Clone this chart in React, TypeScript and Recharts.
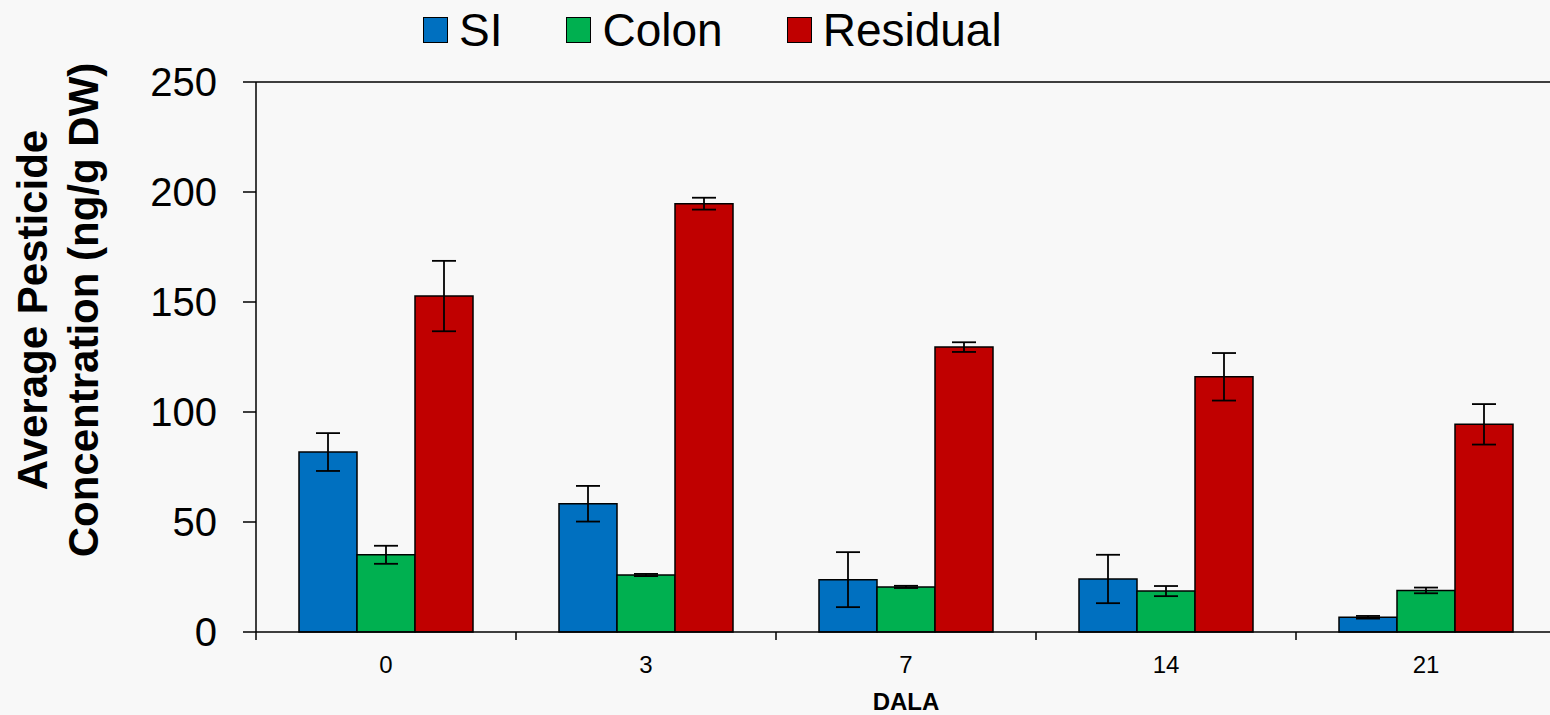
import React from 'react';
import { BarChart, Bar, XAxis, YAxis, ErrorBar, Legend, Label, ReferenceLine } from 'recharts';

const FONT = '"Liberation Sans", Arial, sans-serif';

const categories = ['0', '3', '7', '14', '21'];
const siValues = [81.8, 58.3, 23.8, 24.1, 6.7];
const siErrors = [8.6, 8.1, 12.5, 11.0, 0.6];
const colonValues = [35.1, 25.9, 20.5, 18.6, 18.9];
const colonErrors = [4.1, 0.5, 0.5, 2.3, 1.3];
const residualValues = [152.7, 194.7, 129.5, 116.0, 94.4];
const residualErrors = [16.0, 2.7, 2.2, 10.8, 9.2];
const yTicks = [0, 50, 100, 150, 200, 250];

const series = [
    { key: 'si', err: 'siErr', name: 'SI', color: '#0070C0' },
    { key: 'colon', err: 'colonErr', name: 'Colon', color: '#00B050' },
    { key: 'residual', err: 'residualErr', name: 'Residual', color: '#C00000' },
];

const data = categories.map((dala, i) => ({
    dala,
    si: siValues[i],
    siErr: siErrors[i],
    colon: colonValues[i],
    colonErr: colonErrors[i],
    residual: residualValues[i],
    residualErr: residualErrors[i],
}));

// category label in the middle, small tick mark on the left boundary of each band
const DalaTick = (props: any) => {
    const { x, y, payload } = props;
    const half = payload && payload.offset != null ? payload.offset : 130;
    return (
        <g>
            <line x1={x - half} x2={x - half} y1={y} y2={y + 8} stroke="#000" strokeWidth={1.5} />
            <text x={x} y={y + 41} textAnchor="middle" fontSize={24} fontFamily={FONT} fill="#000">
                {payload.value}
            </text>
        </g>
    );
};

const YTitle = (props: any) => {
    const vb = props.viewBox || { y: 82, height: 550 };
    const cy = vb.y + vb.height / 2 - 47;
    const style = { fontSize: 42, fontWeight: 700, fontFamily: FONT, fill: '#000' };
    return (
        <g>
            <text transform={`translate(47, ${cy}) rotate(-90)`} textAnchor="middle" style={style}>
                Average Pesticide
            </text>
            <text transform={`translate(98, ${cy}) rotate(-90)`} textAnchor="middle" style={style}>
                Concentration (ng/g DW)
            </text>
        </g>
    );
};

const LegendContent = () => (
    <div style={{ display: 'flex', alignItems: 'center', fontFamily: FONT, fontSize: 46, lineHeight: '46px', color: '#000' }}>
        {series.map((s, i) => (
            <div key={s.key} style={{ display: 'flex', alignItems: 'center', marginLeft: i === 0 ? 0 : 64 }}>
                <span
                    style={{
                        display: 'inline-block',
                        width: 23,
                        height: 24,
                        background: s.color,
                        border: '1.5px solid #000',
                        marginRight: 11,
                    }}
                />
                <span>{s.name}</span>
            </div>
        ))}
    </div>
);

export default function App() {
    return (
        <div style={{ position: 'fixed', inset: 0, background: '#f8f8f8', overflow: 'hidden' }}>
            <BarChart
                width={1556}
                height={715}
                data={data}
                margin={{ top: 82, right: 0, bottom: 0, left: 0 }}
                barCategoryGap={43}
                barGap={0}
            >
                <XAxis
                    dataKey="dala"
                    height={83}
                    interval={0}
                    tickSize={0}
                    tickMargin={0}
                    tickLine={false}
                    tick={<DalaTick />}
                    axisLine={{ stroke: '#000', strokeWidth: 1.5 }}
                >
                    <Label
                        value="DALA"
                        position="insideBottom"
                        offset={5}
                        fontSize={24}
                        fontWeight={700}
                        fontFamily={FONT}
                        fill="#000"
                    />
                </XAxis>
                <YAxis
                    width={256}
                    domain={[0, 250]}
                    ticks={yTicks}
                    interval={0}
                    tickSize={13}
                    tickMargin={26}
                    tick={{ fontSize: 40, fill: '#000', fontFamily: FONT }}
                    tickLine={{ stroke: '#000', strokeWidth: 1.5 }}
                    axisLine={{ stroke: '#000', strokeWidth: 1.5 }}
                >
                    <Label content={<YTitle />} />
                </YAxis>
                <ReferenceLine y={250} stroke="#000" strokeWidth={1.5} />
                <Legend
                    verticalAlign="middle"
                    content={<LegendContent />}
                    wrapperStyle={{ top: 7, left: 423, width: 'auto' }}
                />
                {series.map((s) => (
                    <Bar
                        key={s.key}
                        dataKey={s.key}
                        name={s.name}
                        fill={s.color}
                        stroke="#000"
                        strokeWidth={1.5}
                        isAnimationActive={false}
                    >
                        <ErrorBar dataKey={s.err} width={12} stroke="#000" strokeWidth={1.8} direction="y" />
                    </Bar>
                ))}
            </BarChart>
        </div>
    );
}
